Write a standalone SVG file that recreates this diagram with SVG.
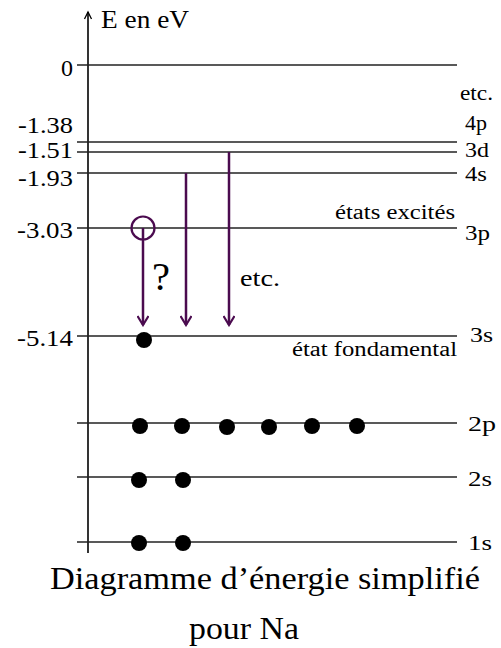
<svg xmlns="http://www.w3.org/2000/svg" width="501" height="648" viewBox="0 0 501 648">
<defs>
<style>
text{font-family:"Liberation Serif","Times New Roman",Times,Tinos,"Nimbus Roman","Nimbus Roman No9 L",FreeSerif,"Noto Serif","DejaVu Serif",Georgia,serif;fill:#000}
.lv{stroke:#222;stroke-width:1.3;fill:none}
.lab{font-size:24px}
.rl{font-size:22px}
.rs{font-size:20px}
.sm{font-size:20px}
.tr{stroke:#4b0b4f;stroke-width:2.5;fill:none}
.dot{fill:#000}
</style>
<marker id="ah" viewBox="0 0 12 12" refX="10" refY="6" markerWidth="12" markerHeight="12" markerUnits="userSpaceOnUse" orient="auto">
<path d="M1,0.5 L10,6 L1,11.5" fill="none" stroke="#4b0b4f" stroke-width="2.2"/>
</marker>
</defs>
<rect width="501" height="648" fill="#fff"/>
<g id="axis">
<line x1="88" y1="12" x2="88" y2="553" stroke="#000" stroke-width="1.6"/>
<path d="M84.5,19 L88,12 L91.5,19" fill="none" stroke="#000" stroke-width="1.3"/>
<text x="101" y="28" textLength="88" lengthAdjust="spacingAndGlyphs" style="font-size:26px">E en eV</text>
</g>
<g id="level-0"><line class="lv" x1="77" y1="65" x2="457" y2="65"/><text class="lab" x="73" y="76" text-anchor="end">0</text><text class="rl" x="460" y="100" textLength="33" lengthAdjust="spacingAndGlyphs">etc.</text></g>
<g id="level-4p"><line class="lv" x1="77" y1="142" x2="457" y2="142"/><text class="lab" x="73" y="133" text-anchor="end" textLength="55" lengthAdjust="spacingAndGlyphs">-1.38</text><text class="rs" x="465" y="130" textLength="22" lengthAdjust="spacingAndGlyphs">4p</text></g>
<g id="level-3d"><line class="lv" x1="77" y1="152" x2="457" y2="152"/><text class="lab" x="73" y="158" text-anchor="end" textLength="55" lengthAdjust="spacingAndGlyphs">-1.51</text><text class="rs" x="465" y="157" textLength="24" lengthAdjust="spacingAndGlyphs">3d</text></g>
<g id="level-4s"><line class="lv" x1="77" y1="173" x2="457" y2="173"/><text class="lab" x="73" y="186" text-anchor="end" textLength="55" lengthAdjust="spacingAndGlyphs">-1.93</text><text class="rs" x="465" y="181" textLength="22" lengthAdjust="spacingAndGlyphs">4s</text></g>
<g id="level-3p"><line class="lv" x1="77" y1="228" x2="457" y2="228"/><text class="lab" x="73" y="238" text-anchor="end" textLength="56" lengthAdjust="spacingAndGlyphs">-3.03</text><text class="rl" x="465" y="240" textLength="25" lengthAdjust="spacingAndGlyphs">3p</text><text class="sm" x="335" y="219" textLength="120" lengthAdjust="spacingAndGlyphs">états excités</text></g>
<g id="level-3s"><line class="lv" x1="77" y1="336" x2="457" y2="336"/><text class="lab" x="73" y="346" text-anchor="end" textLength="56" lengthAdjust="spacingAndGlyphs">-5.14</text><text class="rl" x="470" y="342" textLength="23" lengthAdjust="spacingAndGlyphs">3s</text><text class="sm" x="292" y="356" textLength="165" lengthAdjust="spacingAndGlyphs">état fondamental</text></g>
<g id="level-2p"><line class="lv" x1="77" y1="423" x2="457" y2="423"/><text class="rl" x="468" y="431" textLength="28" lengthAdjust="spacingAndGlyphs">2p</text></g>
<g id="level-2s"><line class="lv" x1="77" y1="477" x2="457" y2="477"/><text class="rl" x="468" y="486" textLength="24" lengthAdjust="spacingAndGlyphs">2s</text></g>
<g id="level-1s"><line class="lv" x1="77" y1="542" x2="457" y2="542"/><text class="rl" x="468" y="550" textLength="24" lengthAdjust="spacingAndGlyphs">1s</text></g>
<g id="electrons">
<circle class="dot" cx="144" cy="340" r="8"/>
<circle class="dot" cx="140" cy="426" r="8"/><circle class="dot" cx="182" cy="426" r="8"/><circle class="dot" cx="227" cy="427" r="8"/><circle class="dot" cx="269" cy="427" r="8"/><circle class="dot" cx="312" cy="426" r="8"/><circle class="dot" cx="357" cy="426" r="8"/>
<circle class="dot" cx="139" cy="480" r="8"/><circle class="dot" cx="183" cy="480" r="8"/>
<circle class="dot" cx="139" cy="543" r="8"/><circle class="dot" cx="183" cy="543" r="8"/>
</g>
<g id="hole"><circle cx="143" cy="228" r="11.5" fill="none" stroke="#4b0b4f" stroke-width="2.2"/></g>
<g id="connectors">
<line class="tr" x1="143" y1="228" x2="143" y2="325" marker-end="url(#ah)"/>
<line class="tr" x1="186" y1="173" x2="186" y2="325" marker-end="url(#ah)"/>
<line class="tr" x1="229" y1="152" x2="229" y2="325" marker-end="url(#ah)"/>
</g>
<g id="labels">
<text x="152" y="290" style="font-size:40px" textLength="18" lengthAdjust="spacingAndGlyphs">?</text>
<text x="240" y="286" style="font-size:24px" textLength="40" lengthAdjust="spacingAndGlyphs">etc.</text>
</g>
<g id="title">
<text x="265" y="589" text-anchor="middle" style="font-size:32px" textLength="430" lengthAdjust="spacingAndGlyphs">Diagramme d’énergie simplifié</text>
<text x="244" y="639" text-anchor="middle" style="font-size:32px" textLength="110" lengthAdjust="spacingAndGlyphs">pour Na</text>
</g>
</svg>
